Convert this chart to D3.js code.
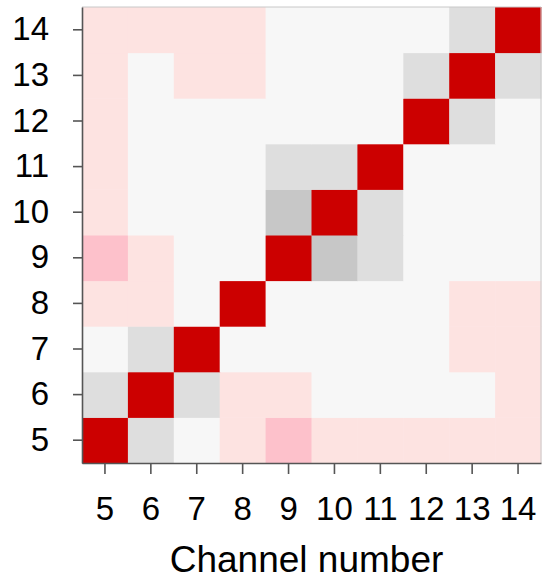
<!DOCTYPE html>
<html>
<head>
<meta charset="utf-8">
<script src="https://cdn.jsdelivr.net/npm/d3@7"></script>
<style>
  html, body { margin: 0; padding: 0; background: #fff; }
  svg { display: block; font-family: "Liberation Sans", Arial, Helvetica, sans-serif; }
</style>
</head>
<body>
<svg id="chart" width="554" height="584"></svg>
<script>
// Channels on both axes
const channels = [5, 6, 7, 8, 9, 10, 11, 12, 13, 14];
const tickLabels = ["5", "6", "7", "8", "9", "10", "11", "12", "13", "14"];

// Channel-to-channel correlation, one row per channel (row i = channel channels[i])
const corr5  = [ 1.00,  0.18,  0.02, -0.15, -0.30, -0.15, -0.15, -0.15, -0.15, -0.15];
const corr6  = [ 0.18,  1.00,  0.18, -0.15, -0.15,  0.02,  0.02,  0.02,  0.02, -0.15];
const corr7  = [ 0.02,  0.18,  1.00,  0.02,  0.02,  0.02,  0.02,  0.02, -0.15, -0.15];
const corr8  = [-0.15, -0.15,  0.02,  1.00,  0.02,  0.02,  0.02,  0.02, -0.15, -0.15];
const corr9  = [-0.30, -0.15,  0.02,  0.02,  1.00,  0.35,  0.18,  0.02,  0.02,  0.02];
const corr10 = [-0.15,  0.02,  0.02,  0.02,  0.35,  1.00,  0.18,  0.02,  0.02,  0.02];
const corr11 = [-0.15,  0.02,  0.02,  0.02,  0.18,  0.18,  1.00,  0.02,  0.02,  0.02];
const corr12 = [-0.15,  0.02,  0.02,  0.02,  0.02,  0.02,  0.02,  1.00,  0.18,  0.02];
const corr13 = [-0.15,  0.02, -0.15, -0.15,  0.02,  0.02,  0.02,  0.18,  1.00,  0.18];
const corr14 = [-0.15, -0.15, -0.15, -0.15,  0.02,  0.02,  0.02,  0.02,  0.18,  1.00];
const corrRows = [corr5, corr6, corr7, corr8, corr9, corr10, corr11, corr12, corr13, corr14];

const xTitle = "Channel number";

// Layout
const svg = d3.select("#chart");
const plot = { left: 82, right: 541, top: 7, bottom: 463 };

const x = d3.scaleBand().domain(channels).range([plot.left, plot.right]).padding(0);
const y = d3.scaleBand().domain(channels).range([plot.bottom, plot.top]).padding(0);

const color = d3.scaleThreshold()
  .domain([-0.25, -0.1, 0.1, 0.25, 0.9])
  .range(["#fdc1cb", "#fde3e1", "#f7f7f7", "#dedede", "#c7c7c7", "#cc0000"]);

// Flatten matrix into cells
const cells = [];
corrRows.forEach((row, i) => {
  row.forEach((v, j) => cells.push({ row: channels[i], col: channels[j], value: v }));
});

svg.append("g")
  .selectAll("rect")
  .data(cells)
  .join("rect")
  .attr("x", d => x(d.col))
  .attr("y", d => y(d.row))
  .attr("width", x.bandwidth() + 0.5)
  .attr("height", y.bandwidth() + 0.5)
  .attr("fill", d => color(d.value));

// Light frame on top and right
svg.append("path")
  .attr("d", `M${plot.left},${plot.top}H${plot.right}V${plot.bottom}`)
  .attr("fill", "none")
  .attr("stroke", "#c8c8c8")
  .attr("stroke-width", 1);

// Axes
const xAxis = d3.axisBottom(x)
  .tickSizeInner(11).tickSizeOuter(0).tickPadding(23)
  .tickFormat((d, i) => tickLabels[i]);
const yAxis = d3.axisLeft(y)
  .tickSizeInner(9).tickSizeOuter(0).tickPadding(24)
  .tickFormat((d, i) => tickLabels[i]);

const gx = svg.append("g").attr("transform", `translate(0,${plot.bottom})`).call(xAxis);
const gy = svg.append("g").attr("transform", `translate(${plot.left},0)`).call(yAxis);

[gx, gy].forEach(g => {
  g.select(".domain").attr("stroke", "#555").attr("stroke-width", 1.6);
  g.selectAll(".tick line").attr("stroke", "#555").attr("stroke-width", 1.6);
  g.selectAll(".tick text")
    .attr("fill", "#000")
    .style("font-size", "33px")
    .style("font-family", "'Liberation Sans', Arial, Helvetica, sans-serif");
});

// Axis title
svg.append("text")
  .attr("x", (plot.left + plot.right) / 2 - 5)
  .attr("y", 572)
  .attr("text-anchor", "middle")
  .style("font-size", "37px")
  .attr("fill", "#000")
  .text(xTitle);
</script>
</body>
</html>
